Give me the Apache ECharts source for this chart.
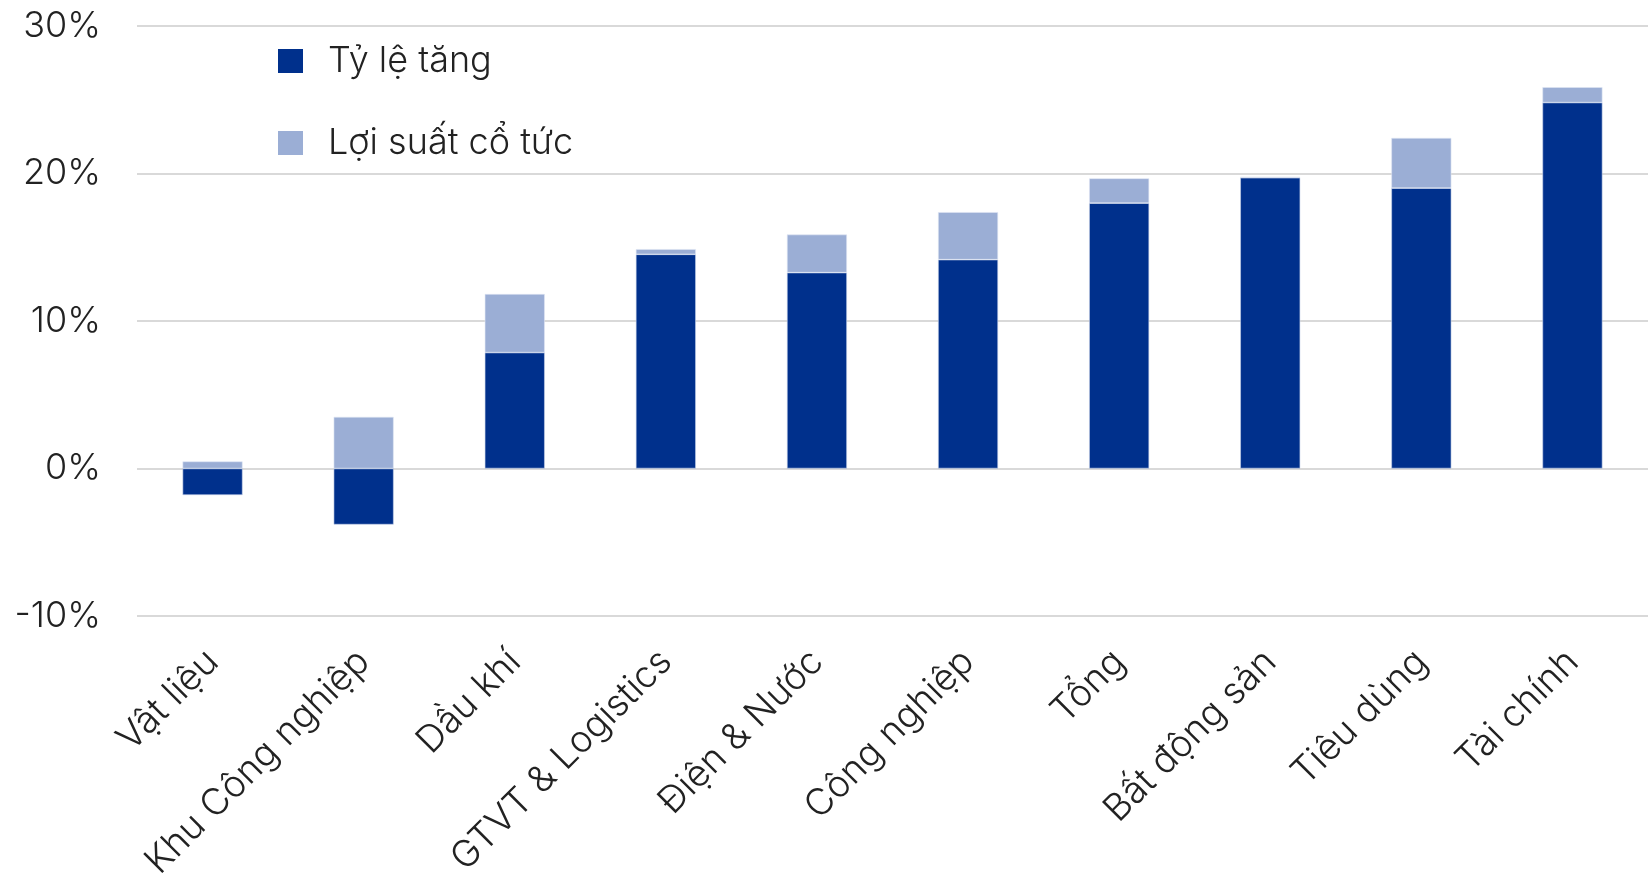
<!DOCTYPE html>
<html>
<head>
<meta charset="utf-8">
<script src="https://cdn.jsdelivr.net/npm/echarts@6/dist/echarts.min.js"></script>
<style>
  html, body { margin: 0; padding: 0; background: #fff; }
  #chart { width: 1648px; height: 876px; }
</style>
</head>
<body>
<div id="chart"></div>
<script>
const categories = ['Vật liệu', 'Khu Công nghiệp', 'Dầu khí', 'GTVT & Logistics', 'Điện & Nước',
    'Công nghiệp', 'Tổng', 'Bất động sản', 'Tiêu dùng', 'Tài chính'];
// tỷ lệ tăng (%)
const growth = [-1.8, -3.8, 7.86, 14.52, 13.28, 14.16, 17.99, 19.71, 19.01, 24.81];
// lợi suất cổ tức (%)
const dividend = [0.48, 3.5, 3.97, 0.35, 2.58, 3.22, 1.68, 0.07, 3.4, 1.04];
const yTicks = [-10, 0, 10, 20, 30];

const fontFamily = 'Inter, "Noto Sans", sans-serif';
const chart = echarts.init(document.getElementById('chart'));
chart.setOption({
    animation: false,
    grid: { left: 137, right: 0, top: 26, bottom: 260, outerBoundsMode: 'none', containLabel: false },
    legend: {
        orient: 'vertical',
        left: 273,
        top: 38,
        itemWidth: 25,
        itemHeight: 24,
        itemGap: 46,
        icon: 'rect',
        itemStyle: { borderWidth: 0 },
        textStyle: {
            fontFamily: fontFamily,
            fontSize: 36,
            fontWeight: 300,
            color: '#222',
            lineHeight: 34,
            padding: [0, 0, 0, 20]
        },
        data: ['Tỷ lệ tăng', 'Lợi suất cổ tức']
    },
    xAxis: {
        type: 'category',
        data: categories,
        axisLine: { show: false, onZero: false },
        axisTick: { show: false },
        axisLabel: {
            rotate: 45,
            margin: 40,
            interval: 0,
            fontFamily: fontFamily,
            fontSize: 37,
            fontWeight: 300,
            color: '#222'
        }
    },
    yAxis: {
        type: 'value',
        min: yTicks[0],
        max: yTicks[yTicks.length - 1],
        interval: 10,
        axisLabel: {
            formatter: '{value}%',
            margin: 36,
            fontFamily: fontFamily,
            fontSize: 36,
            fontWeight: 300,
            color: '#222'
        },
        splitLine: { lineStyle: { color: '#d9d9d9', width: 2 } }
    },
    series: [
        {
            name: 'Tỷ lệ tăng',
            type: 'bar',
            stack: 'total',
            barWidth: 60,
            itemStyle: { color: '#00308c', borderColor: '#c8d3ea', borderWidth: 0.6 },
            data: growth
        },
        {
            name: 'Lợi suất cổ tức',
            type: 'bar',
            stack: 'total',
            barWidth: 60,
            itemStyle: { color: '#9baed5', borderColor: '#dfe6f4', borderWidth: 0.6 },
            data: dividend
        }
    ]
});
</script>
</body>
</html>
